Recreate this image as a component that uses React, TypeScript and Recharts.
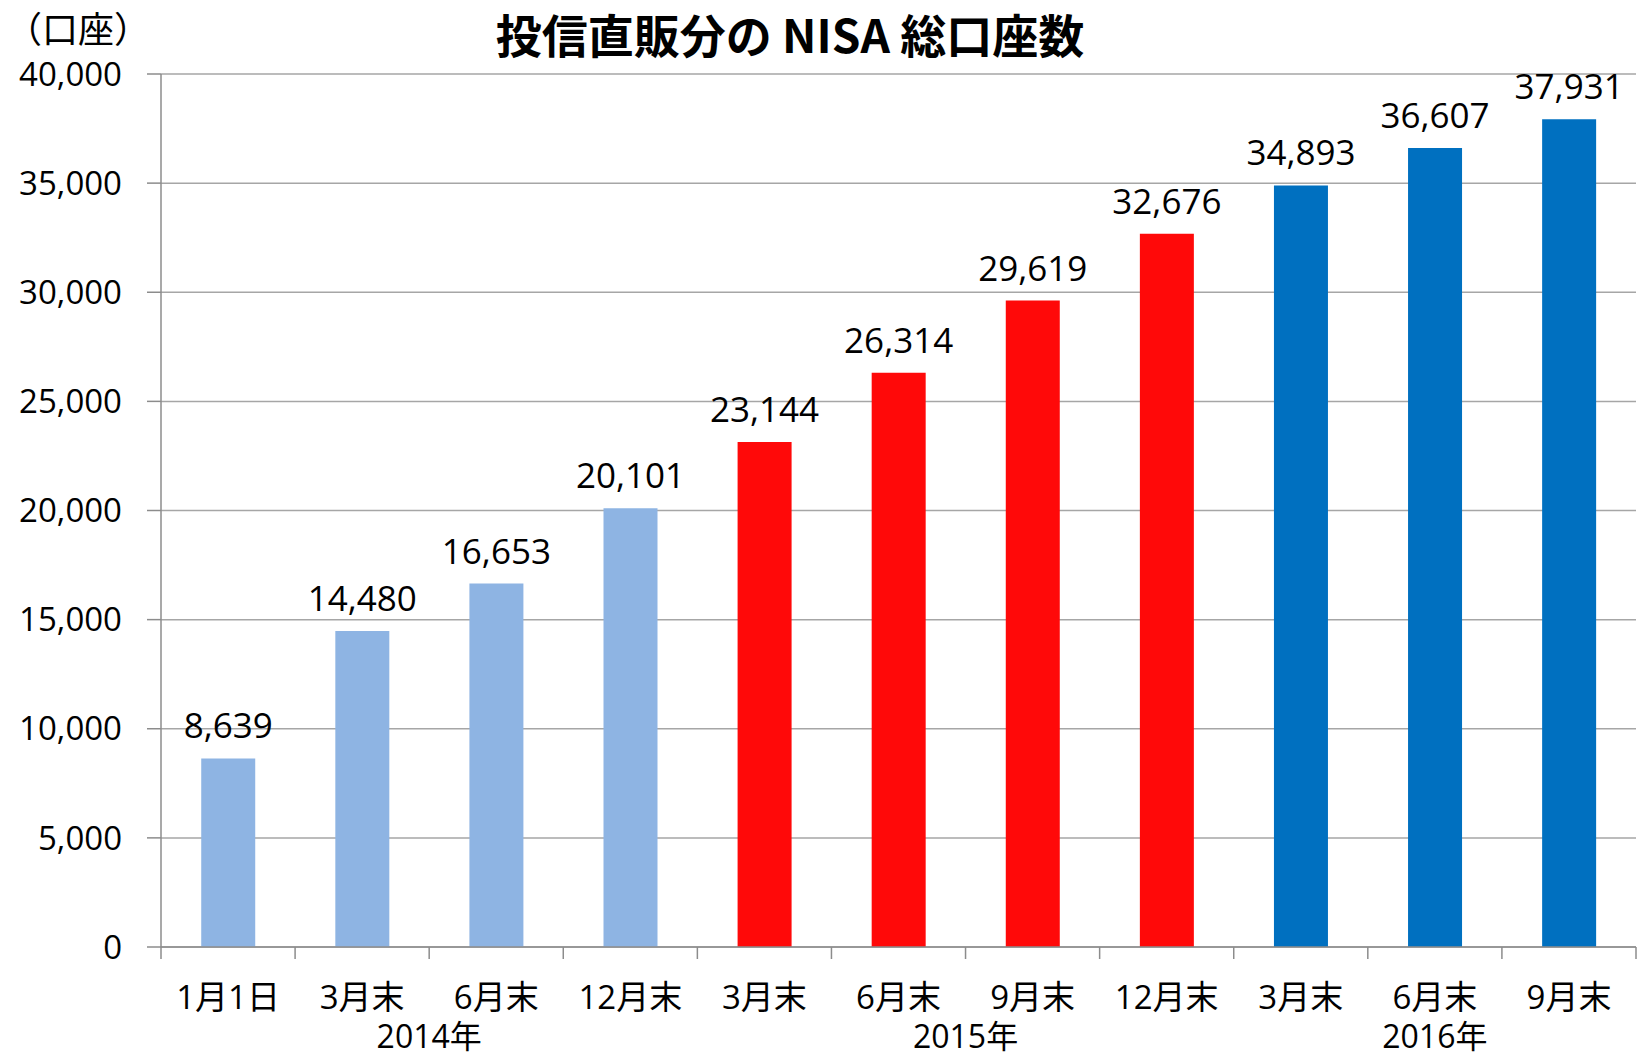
import React from "react";
import { BarChart, Bar, CartesianGrid, XAxis, YAxis, LabelList, Cell } from "recharts";

document.body.style.margin = "0";

const categories = ["1月1日", "3月末", "6月末", "12月末", "3月末", "6月末", "9月末", "12月末", "3月末", "6月末", "9月末"];
const accounts = [8639, 14480, 16653, 20101, 23144, 26314, 29619, 32676, 34893, 36607, 37931];
const yearOfBar = [2014, 2014, 2014, 2014, 2015, 2015, 2015, 2015, 2016, 2016, 2016];
const years = [
  { label: "2014年", start: 0, end: 3 },
  { label: "2015年", start: 4, end: 7 },
  { label: "2016年", start: 8, end: 10 },
];
const yTicks = [0, 5000, 10000, 15000, 20000, 25000, 30000, 35000, 40000];

const yearColors: Record<number, string> = {
  2014: "#8EB4E3",
  2015: "#FF0909",
  2016: "#0070C0",
};

const data = categories.map((name, i) => ({ name, value: accounts[i], year: yearOfBar[i] }));

const W = 1639;
const H = 1060;
const margin = { top: 74, right: 3, bottom: 0, left: 0 };
const yAxisWidth = 161;
const step = (W - margin.left - margin.right - yAxisWidth) / categories.length;

const gridColor = "#A6A6A6";
const axisColor = "#8C8C8C";
const font = "'Open Sans', 'Noto Sans CJK JP', sans-serif";

const CategoryTick = (props: any) => {
  const { x, y, index, payload } = props;
  const group = years.find((g) => index === Math.floor((g.start + g.end) / 2));
  const last = index === categories.length - 1;
  return (
    <g>
      <line x1={x - step / 2} x2={x - step / 2} y1={y} y2={y + 12} stroke={axisColor} strokeWidth={1.5} />
      {last && <line x1={x + step / 2} x2={x + step / 2} y1={y} y2={y + 12} stroke={axisColor} strokeWidth={1.5} />}
      <text x={x} y={y + 62} textAnchor="middle" fontSize={33} fontFamily={font} fill="#000">
        {payload.value}
      </text>
      {group && (
        <text
          x={x + ((group.start + group.end) / 2 - index) * step}
          y={y + 101}
          textAnchor="middle"
          fontSize={32}
          fontFamily={font}
          fill="#000"
        >
          {group.label}
        </text>
      )}
    </g>
  );
};

const App = () => {
  return (
    <div style={{ position: "relative", width: W, height: H, background: "#fff" }}>
      <div
        style={{
          position: "absolute",
          left: 790,
          top: 33,
          transform: "translate(-50%, -50%)",
          fontFamily: "'Noto Sans CJK JP', sans-serif",
          fontWeight: 700,
          fontSize: 46,
          whiteSpace: "nowrap",
          color: "#000",
        }}
      >
        投信直販分の NISA 総口座数
      </div>
      <div
        style={{
          position: "absolute",
          left: 6,
          top: 27,
          transform: "translateY(-50%)",
          fontFamily: font,
          fontSize: 36,
          whiteSpace: "nowrap",
          color: "#000",
        }}
      >
        （口座）
      </div>
      <BarChart width={W} height={H} data={data} margin={margin} barCategoryGap="30%">
        <CartesianGrid vertical={false} stroke={gridColor} strokeWidth={1.5} />
        <XAxis
          dataKey="name"
          height={113}
          interval={0}
          tickLine={false}
          tickSize={0}
          tickMargin={0}
          axisLine={{ stroke: axisColor, strokeWidth: 1.5 }}
          tick={<CategoryTick />}
        />
        <YAxis
          width={yAxisWidth}
          domain={[0, 40000]}
          ticks={yTicks}
          interval={0}
          tickSize={14}
          tickMargin={25}
          tickFormatter={(v: number) => v.toLocaleString("en-US")}
          axisLine={{ stroke: axisColor, strokeWidth: 1.5 }}
          tickLine={{ stroke: axisColor, strokeWidth: 1.5 }}
          tick={{ fontSize: 33, fontFamily: font, fill: "#000" }}
        />
        <Bar dataKey="value" isAnimationActive={false}>
          {data.map((d, i) => (
            <Cell key={i} fill={yearColors[d.year]} />
          ))}
          <LabelList
            dataKey="value"
            position="top"
            offset={20}
            formatter={(v: any) => Number(v).toLocaleString("en-US")}
            style={{ fontSize: 35, fontFamily: font, fill: "#000" }}
          />
        </Bar>
      </BarChart>
    </div>
  );
};

export default App;
